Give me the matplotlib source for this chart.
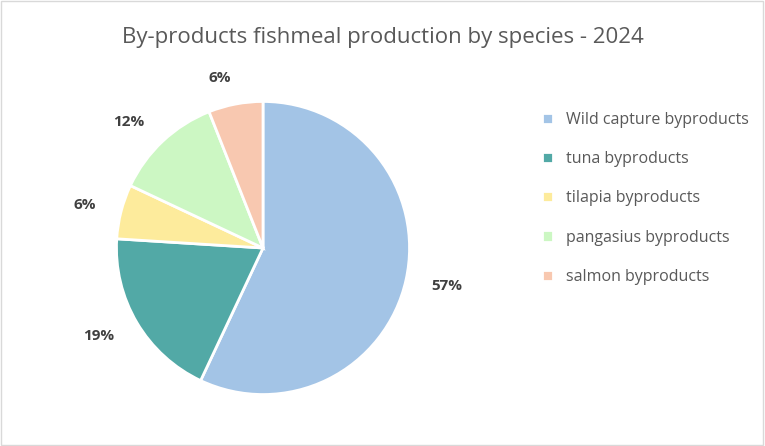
import matplotlib.pyplot as plt
from matplotlib.patches import Rectangle

plt.rcParams['font.family'] = ['Open Sans', 'DejaVu Sans']

species = ['Wild capture byproducts', 'tuna byproducts', 'tilapia byproducts',
           'pangasius byproducts', 'salmon byproducts']
shares = [57, 19, 6, 12, 6]
colors = ['#A3C4E6', '#52A9A6', '#FDEB9C', '#CCF7C3', '#F8C8B0']

fig = plt.figure(figsize=(7.65, 4.46), dpi=100)
fig.patches.append(Rectangle((0.001, 0.002), 0.997, 0.995, transform=fig.transFigure,
                             fill=False, edgecolor='#D9D9D9', linewidth=1))

ax = fig.add_axes([115 / 765, 50 / 446, 296 / 765, 296 / 446])
wedges, texts = ax.pie(shares, colors=colors, startangle=90, counterclock=False,
                       labels=[f'{s}%' for s in shares], labeldistance=1.18,
                       wedgeprops=dict(edgecolor='white', linewidth=2),
                       textprops=dict(fontsize=11, fontweight='bold', color='#404040'))
ax.set_aspect('equal')
ax.set_xlim(-1.01, 1.01)
ax.set_ylim(-1.01, 1.01)

fig.text(0.5, 0.915, 'By-products fishmeal production by species - 2024',
         ha='center', va='center', fontsize=16, color='#595959')

fig.legend(wedges, species, loc='center left', bbox_to_anchor=(0.69, 0.555),
           frameon=False, fontsize=11.5, labelcolor='#595959', handlelength=0.7,
           handleheight=0.7, labelspacing=1.45)

fig.savefig('out.png', dpi=100)
